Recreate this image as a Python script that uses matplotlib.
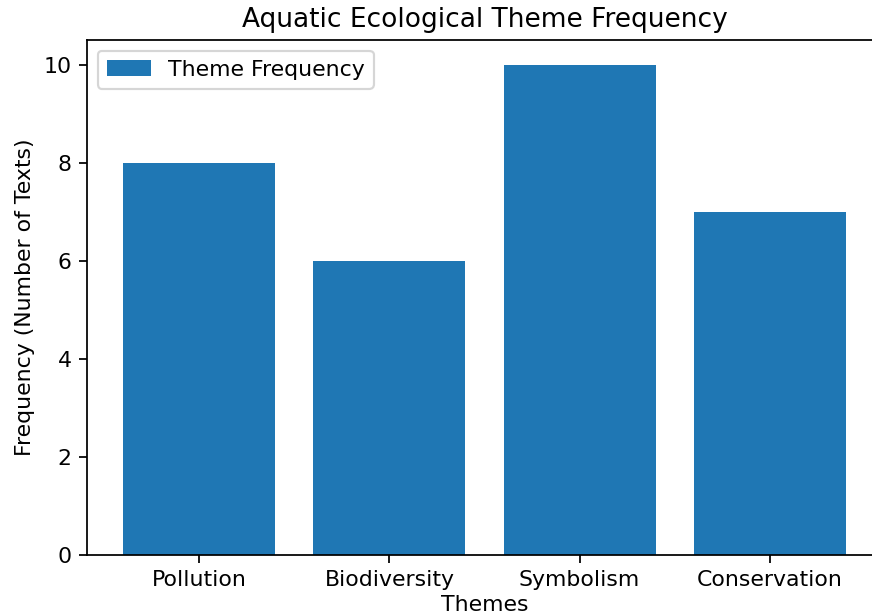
import matplotlib
matplotlib.use("Agg")
import matplotlib.pyplot as plt

themes = ["Pollution", "Biodiversity", "Symbolism", "Conservation"]
frequency = [8, 6, 10, 7]

# original looks like a default-size chart blown up, so render at a higher dpi
fig = plt.figure(figsize=(872 / 158, 615 / 158), dpi=158)
# right spine is cropped off in the reference, so the axes run past the edge
ax = fig.add_axes([87 / 872, 1 - 555 / 615, (882 - 87) / 872, (555 - 40) / 615])

ax.bar(themes, frequency, color="#1f77b4", label="Theme Frequency")
ax.set_xlabel("Themes", labelpad=2)
ax.set_ylabel("Frequency (Number of Texts)")
ax.set_title("Aquatic Ecological Theme Frequency")
ax.legend(loc="upper left")

fig.savefig("out.png", dpi=158)
